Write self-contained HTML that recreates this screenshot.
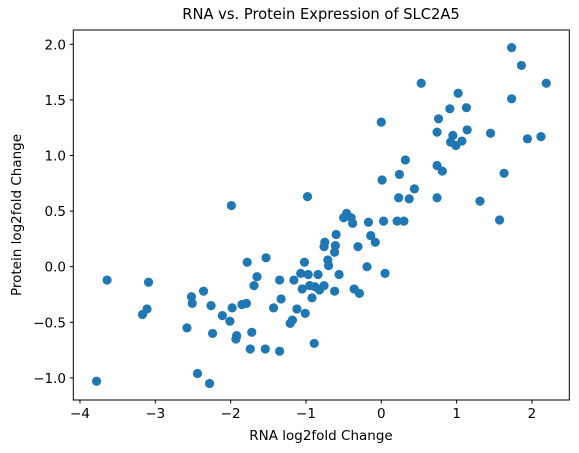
<!DOCTYPE html>
<html><head><meta charset="utf-8"><style>
html,body{margin:0;padding:0;background:#fff;}
svg{display:block;font-family:"DejaVu Sans","Liberation Sans",sans-serif;}
</style></head><body>
<svg id="chart" width="579" height="453" viewBox="0 0 579 453">
<text x="321" y="19" font-size="14.7" text-anchor="middle" fill="#000">RNA vs. Protein Expression of SLC2A5</text>
<g id="points"></g>
<rect x="73.3" y="30" width="496" height="370" fill="none" stroke="#000" stroke-width="1"/>
<g id="xticks"></g>
<g id="yticks"></g>
<text x="321" y="440" font-size="13.5" text-anchor="middle">RNA log2fold Change</text>
<text x="0" y="0" font-size="13.5" text-anchor="middle" transform="translate(21,215) rotate(-90)">Protein log2fold Change</text>
</svg>
<script>
const rnaValues = [-3.64,-3.09,-3.17,-3.11,-3.78,-1.99,-0.98,-2.58,-2.52,-2.51,-2.36,-2.26,-2.24,-2.44,-2.28,-2.11,-2.01,-1.98,-1.92,-1.93,-1.85,-1.79,-1.78,-1.65,-1.69,-1.53,-1.72,-1.74,-1.54,-1.35,-1.35,-1.33,-1.43,-1.16,-1.21,-1.18,-1.12,-1.01,-0.89,-1.02,-1.07,-0.97,-1.05,-0.95,-0.88,-0.92,-0.84,-0.82,-0.76,-0.62,-0.46,-0.50,-0.40,-0.38,-0.17,0.03,0.21,0.30,0.23,0.37,0.74,-0.60,-0.75,-0.76,-0.61,-0.62,-0.14,-0.08,-0.31,-0.71,-0.70,-0.56,-0.19,0.05,-0.36,-0.29,1.73,1.86,2.19,0.53,1.02,1.73,0.91,1.13,0.76,0.00,0.74,0.95,0.92,0.99,1.07,1.14,1.45,1.94,2.12,0.32,0.24,0.01,0.44,0.74,0.81,1.31,1.63,1.57];
const proteinValues = [-0.12,-0.14,-0.43,-0.38,-1.03,0.55,0.63,-0.55,-0.27,-0.33,-0.22,-0.35,-0.60,-0.96,-1.05,-0.44,-0.49,-0.37,-0.62,-0.65,-0.34,-0.33,0.04,-0.09,-0.17,0.08,-0.59,-0.74,-0.74,-0.76,-0.12,-0.29,-0.37,-0.12,-0.51,-0.48,-0.38,-0.42,-0.69,0.04,-0.06,-0.07,-0.20,-0.17,-0.18,-0.28,-0.07,-0.21,-0.17,-0.22,0.48,0.44,0.44,0.39,0.40,0.41,0.41,0.41,0.62,0.61,0.62,0.29,0.22,0.18,0.19,0.13,0.28,0.22,0.18,0.06,0.01,-0.07,0.00,-0.06,-0.20,-0.24,1.97,1.81,1.65,1.65,1.56,1.51,1.42,1.43,1.33,1.30,1.21,1.18,1.12,1.09,1.13,1.23,1.20,1.15,1.17,0.96,0.83,0.78,0.70,0.91,0.86,0.59,0.84,0.42];
const xTickValues = [-4,-3,-2,-1,0,1,2];
const xTickLabels = ["\u22124","\u22123","\u22122","\u22121","0","1","2"];
const yTickValues = [-1,-0.5,0,0.5,1,1.5,2];
const yTickLabels = ["\u22121.0","\u22120.5","0.0","0.5","1.0","1.5","2.0"];

const NS = "http://www.w3.org/2000/svg";
function xScale(v){ return 381.3 + 75.33 * v; }
function yScale(v){ return 266.7 - 111.2 * v; }

const pg = document.getElementById('points');
for (let i = 0; i < rnaValues.length; i++) {
  const c = document.createElementNS(NS, 'circle');
  c.setAttribute('cx', xScale(rnaValues[i]));
  c.setAttribute('cy', yScale(proteinValues[i]));
  c.setAttribute('r', 4.6);
  c.setAttribute('fill', '#1f77b4');
  
  
  pg.appendChild(c);
}
const xg = document.getElementById('xticks');
xTickValues.forEach((v, i) => {
  const x = xScale(v);
  const l = document.createElementNS(NS, 'line');
  l.setAttribute('x1', x); l.setAttribute('x2', x);
  l.setAttribute('y1', 400); l.setAttribute('y2', 403.5);
  l.setAttribute('stroke', '#000');
  
  
  xg.appendChild(l);
  const t = document.createElementNS(NS, 'text');
  t.setAttribute('x', x); t.setAttribute('y', 418);
  t.setAttribute('font-size', '13.5');
  t.setAttribute('text-anchor', 'middle');
  t.textContent = xTickLabels[i];
  
  
  xg.appendChild(t);
});
const yg = document.getElementById('yticks');
yTickValues.forEach((v, i) => {
  const y = yScale(v);
  const l = document.createElementNS(NS, 'line');
  l.setAttribute('x1', 69.8); l.setAttribute('x2', 73.3);
  l.setAttribute('y1', y); l.setAttribute('y2', y);
  l.setAttribute('stroke', '#000');
  
  
  yg.appendChild(l);
  const t = document.createElementNS(NS, 'text');
  t.setAttribute('x', 66); t.setAttribute('y', y + 5);
  t.setAttribute('font-size', '13.5');
  t.setAttribute('text-anchor', 'end');
  t.textContent = yTickLabels[i];
  
  
  yg.appendChild(t);
});
</script>
</body></html>
